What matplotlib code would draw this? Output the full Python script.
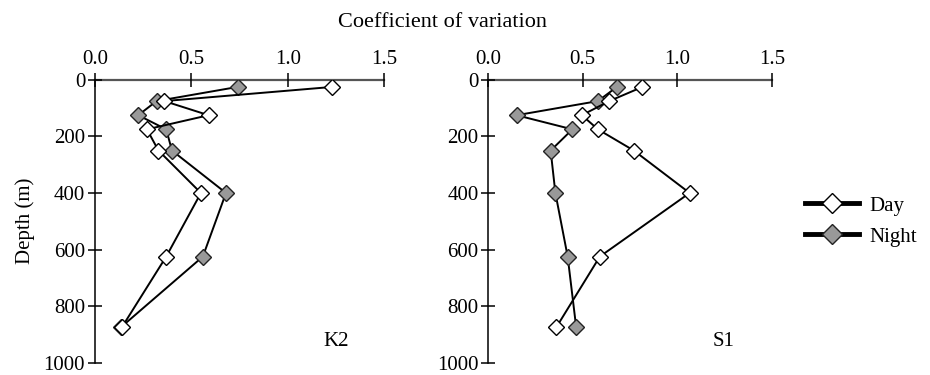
import matplotlib
matplotlib.use("Agg")
import matplotlib.pyplot as plt
from matplotlib.lines import Line2D

plt.rcParams['font.family'] = ['Liberation Serif', 'DejaVu Serif']

depth = [25, 75, 125, 175, 250, 400, 625, 875]

k2_day = [1.23, 0.36, 0.59, 0.27, 0.33, 0.55, 0.37, 0.14]
k2_night = [0.74, 0.32, 0.225, 0.37, 0.40, 0.68, 0.56, 0.135]

s1_day = [0.815, 0.64, 0.495, 0.58, 0.77, 1.065, 0.59, 0.36]
s1_night = [0.68, 0.58, 0.15, 0.445, 0.33, 0.355, 0.42, 0.465]

station_labels = ["K2", "S1"]
x_ticks = [0.0, 0.5, 1.0, 1.5]
y_ticks = [0, 200, 400, 600, 800, 1000]

fig = plt.figure(figsize=(9.3, 3.75), dpi=100)
ax1 = fig.add_axes([0.102, 0.033, 0.311, 0.754])
ax2 = fig.add_axes([0.525, 0.033, 0.305, 0.754])

day_style = dict(color='black', lw=1.4, marker='D', markersize=8,
                 markerfacecolor='white', markeredgecolor='black', markeredgewidth=1.0)
night_style = dict(color='black', lw=1.4, marker='D', markersize=8,
                   markerfacecolor='#999999', markeredgecolor='#222222', markeredgewidth=1.0)

for ax, day, night, lab in [(ax1, k2_day, k2_night, station_labels[0]),
                            (ax2, s1_day, s1_night, station_labels[1])]:
    ax.plot(night, depth, zorder=3, **night_style)
    ax.plot(day, depth, zorder=4, **day_style)
    ax.set_xlim(0, 1.5)
    ax.set_ylim(1000, 0)
    ax.set_xticks(x_ticks)
    ax.set_xticklabels([f"{t:.1f}" for t in x_ticks])
    ax.set_yticks(y_ticks)
    ax.xaxis.tick_top()
    ax.tick_params(axis='x', direction='inout', length=10, width=1.1,
                   labelsize=15, pad=3, colors='black')
    ax.tick_params(axis='y', direction='inout', length=10, width=1.1,
                   labelsize=15, pad=2)
    for s in ['right', 'bottom']:
        ax.spines[s].set_visible(False)
    ax.spines['top'].set_color('#555555')
    ax.spines['top'].set_linewidth(1.6)
    ax.spines['left'].set_linewidth(1.1)
    ax.patch.set_alpha(0)
    ax.text(0.79, 0.075, lab, transform=ax.transAxes, fontsize=15, va='center')
    for t in ax.spines.values():
        t.set_zorder(1)

ax1.set_ylabel("Depth (m)", fontsize=15, labelpad=6)
fig.text(0.476, 0.94, "Coefficient of variation", fontsize=16, ha='center', va='center')

handles = [Line2D([], [], color='black', lw=3.5, marker='D', markersize=10,
                  markerfacecolor='white', markeredgecolor='black'),
           Line2D([], [], color='black', lw=3.5, marker='D', markersize=10,
                  markerfacecolor='#999999', markeredgecolor='#222222')]
fig.legend(handles, ["Day", "Night"], loc='center left', bbox_to_anchor=(0.845, 0.41),
           frameon=False, fontsize=15, handlelength=2.6, labelspacing=0.55,
           handletextpad=0.5)

fig.savefig("out.png", dpi=100)
